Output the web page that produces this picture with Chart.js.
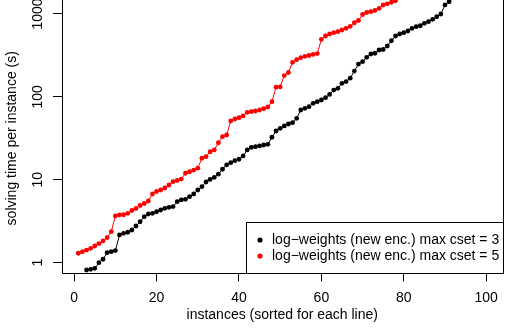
<!DOCTYPE html>
<html>
<head>
<meta charset="utf-8">
<script src="https://cdn.jsdelivr.net/npm/chart.js@4"></script>
<style>
  html, body { margin: 0; padding: 0; background: #fff; }
  canvas { display: block; }
</style>
</head>
<body>
<canvas id="chart" width="509" height="331"></canvas>
<script>
// solving times (s), sorted, for each configuration
const blackStart = 3;
const blackTimes = [
    0.816, 0.833, 0.856, 1.00, 1.10, 1.32, 1.36, 1.40, 2.16, 2.26,
    2.33, 2.48, 2.77, 3.12, 3.59, 3.87, 3.94, 4.12, 4.32, 4.53,
    4.66, 4.76, 5.44, 5.71, 5.82, 6.25, 6.74, 7.53, 8.26, 9.41,
    10.1, 10.7, 11.7, 13.4, 15.1, 16.1, 17.0, 17.7, 19.4, 22.9,
    24.6, 25.1, 25.6, 26.3, 26.8, 32.6, 38.8, 41.8, 44.6, 47.1,
    48.9, 55.2, 69.5, 72.9, 76.2, 83.7, 87.5, 91.8, 97.8, 107,
    121, 127, 146, 153, 168, 205, 249, 266, 300, 329,
    336, 368, 373, 411, 476, 543, 574, 595, 624, 672,
    703, 722, 772, 807, 863, 927, 1000, 1285, 1408
];
const redStart = 1;
const redTimes = [
    1.30, 1.36, 1.42, 1.49, 1.59, 1.70, 1.83, 2.01, 2.37, 3.66,
    3.76, 3.79, 3.94, 4.26, 4.51, 4.90, 5.18, 5.55, 6.74, 7.23,
    7.53, 7.96, 8.66, 9.49, 9.81, 10.2, 12.0, 12.5, 13.1, 13.8,
    18.2, 19.0, 21.8, 22.9, 28.0, 33.1, 34.7, 51.2, 54.1, 56.1,
    58.9, 65.2, 66.3, 67.6, 69.5, 72.0, 75.5, 87.5, 131, 132,
    181, 197, 261, 281, 297, 309, 316, 325, 333, 495,
    543, 574, 595, 612, 641, 672, 711, 784, 835, 986,
    1042, 1066, 1102, 1171, 1284, 1328, 1385, 1444
];
const seriesLabels = [
    "log\u2212weights (new enc.) max cset = 3",
    "log\u2212weights (new enc.) max cset = 5"
];
const seriesColors = ["#000000", "#ff0000"];
const xTicks = [0, 20, 40, 60, 80, 100];
const yTicks = [1, 10, 100, 1000];

const FONT = "'Liberation Sans', Arial, sans-serif";
const DECADE_PX = 82.9;   // height of one decade on the y axis

function toPoints(start, values) {
    return values.map((v, i) => ({ x: start + i, y: v }));
}

// box round the plot (its top is above the picture), y tick labels
// turned like R does, and the legend
const rStyle = {
    id: "rStyle",
    afterDatasetsDraw(chart) {
        const ctx = chart.ctx;
        const a = chart.chartArea;
        const ys = chart.scales.y;
        const l = Math.round(a.left) + 0.5;
        const r = Math.round(a.right) + 0.5;
        const b = Math.round(a.bottom) + 0.5;
        ctx.save();
        ctx.strokeStyle = "#000";
        ctx.lineWidth = 1;
        ctx.beginPath();
        ctx.moveTo(l, 0);
        ctx.lineTo(l, b);
        ctx.lineTo(r, b);
        ctx.lineTo(r, 0);
        ctx.stroke();

        ctx.fillStyle = "#000";
        ctx.font = "14px " + FONT;
        ctx.textAlign = "center";
        ctx.textBaseline = "middle";
        yTicks.forEach((v) => {
            ctx.save();
            ctx.translate(38, ys.getPixelForValue(v));
            ctx.rotate(-Math.PI / 2);
            ctx.fillText(String(v), 0, 0);
            ctx.restore();
        });

        // legend in the bottom right corner
        const lx = 246.5, ly = 222.5;
        ctx.fillStyle = "#fff";
        ctx.fillRect(lx, ly, r - lx, b - ly);
        ctx.strokeRect(lx, ly, r - lx, b - ly);
        ctx.textAlign = "left";
        seriesLabels.forEach((lab, i) => {
            const cy = 240 + i * 16;
            ctx.fillStyle = seriesColors[i];
            ctx.beginPath();
            ctx.arc(260, cy, 2.6, 0, Math.PI * 2);
            ctx.fill();
            ctx.fillStyle = "#000";
            ctx.fillText(lab, 272, cy + 0.5);
        });
        ctx.restore();
    }
};

const chart = new Chart(document.getElementById("chart"), {
    type: "scatter",
    data: {
        datasets: [
            {
                label: seriesLabels[0],
                data: toPoints(blackStart, blackTimes),
                showLine: true,
                clip: false,
                borderColor: seriesColors[0],
                backgroundColor: seriesColors[0],
                borderWidth: 1,
                pointRadius: 2.4,
                pointBorderWidth: 0,
            },
            {
                label: seriesLabels[1],
                data: toPoints(redStart, redTimes),
                showLine: true,
                clip: false,
                borderColor: seriesColors[1],
                backgroundColor: seriesColors[1],
                borderWidth: 1,
                pointRadius: 2.4,
                pointBorderWidth: 0,
            }
        ]
    },
    options: {
        responsive: false,
        animation: false,
        devicePixelRatio: 1,
        layout: { padding: { top: 0, right: 6.5, bottom: 0, left: 0 } },
        plugins: { legend: { display: false }, tooltip: { enabled: false } },
        scales: {
            x: {
                type: "linear",
                min: -2.96,
                max: 103.96,
                afterBuildTicks: (s) => { s.ticks = xTicks.map((v) => ({ value: v })); },
                afterFit: (s) => { s.height = 58.5; },
                border: { display: false },
                grid: { drawOnChartArea: false, drawTicks: true, tickLength: 9, color: "#000" },
                ticks: { color: "#000", font: { family: FONT, size: 14 }, padding: 8, maxRotation: 0 },
                title: {
                    display: true,
                    text: "instances (sorted for each line)",
                    color: "#000",
                    font: { family: FONT, size: 14 },
                    padding: { top: 0, bottom: 7.6 }
                }
            },
            y: {
                type: "logarithmic",
                min: Math.pow(10, -9.8 / DECADE_PX),
                max: 1475,
                afterBuildTicks: (s) => { s.ticks = yTicks.map((v) => ({ value: v })); },
                afterFit: (s) => { s.width = 62; },
                border: { display: false },
                grid: { drawOnChartArea: false, drawTicks: true, tickLength: 9, color: "#000" },
                ticks: { display: false },
                title: {
                    display: true,
                    text: "solving time per instance (s)",
                    color: "#000",
                    font: { family: FONT, size: 14 },
                    padding: { top: 3.6, bottom: 0 }
                }
            }
        }
    },
    plugins: [rStyle]
});

// keep 1 at y = 262.7 px and one decade = DECADE_PX, whatever top the layout gives
const area = chart.chartArea;
chart.options.scales.y.min = Math.pow(10, (262.7 - area.bottom) / DECADE_PX);
chart.options.scales.y.max = Math.pow(10, (262.7 - area.top) / DECADE_PX);
chart.options.layout.padding.right += area.right - 502.5;
chart.update();
</script>
</body>
</html>
